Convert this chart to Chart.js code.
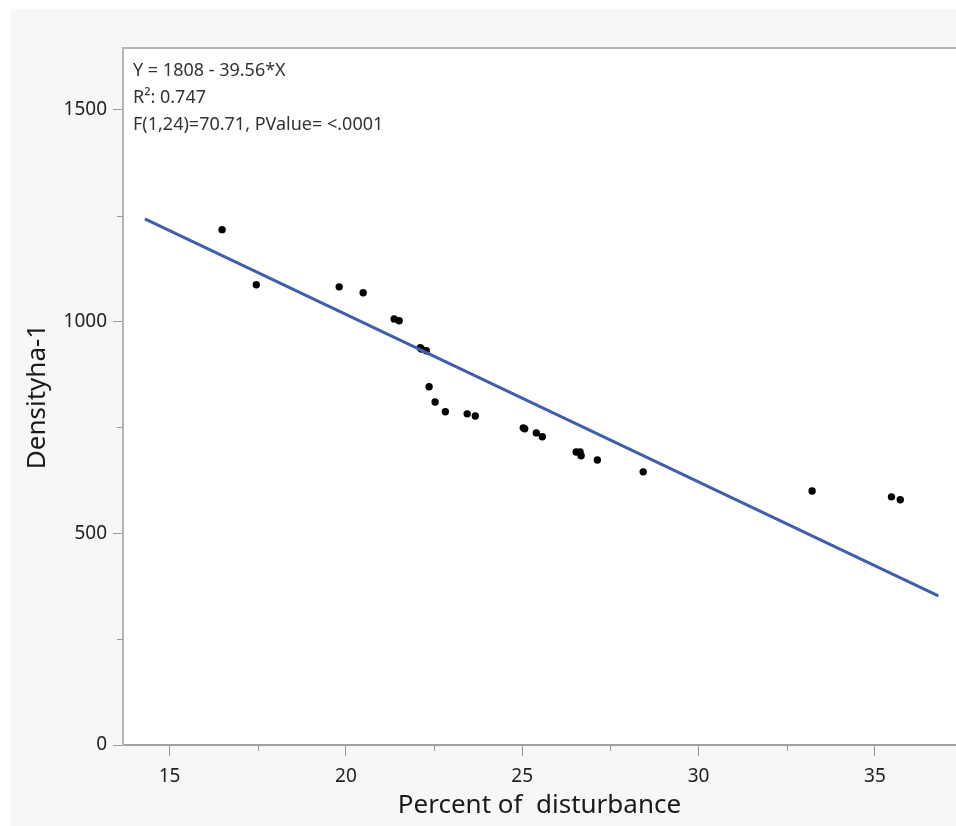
<!DOCTYPE html>
<html>
<head>
<meta charset="utf-8">
<script src="https://cdn.jsdelivr.net/npm/chart.js@4.4.0/dist/chart.umd.min.js"></script>
<style>
  html, body { margin: 0; padding: 0; background: #fff; overflow: hidden; }
  canvas { display: block; }
</style>
</head>
<body>
<canvas id="fitChart" width="956" height="826"></canvas>
<script>
// values
var disturbance = [16.49, 17.46, 19.81, 20.49, 21.37, 21.51, 22.11, 22.14, 22.28, 22.36, 22.53, 22.82, 23.44,
                   23.67, 25.03, 25.07, 25.40, 25.57, 26.53, 26.64, 26.67, 27.13, 28.43, 33.22, 35.47, 35.72]
var density = [1217, 1087, 1082, 1068, 1006, 1002, 938, 935, 931, 846, 810, 787, 782,
               777, 749, 747, 737, 728, 692, 692, 683, 673, 645, 600, 586, 579]
var xTicks = [15, 20, 25, 30, 35]
var xMinorTicks = [17.5, 22.5, 27.5, 32.5]
var yTicks = [0, 500, 1000, 1500]
var yMinorTicks = [250, 750, 1250]
var fitIntercept = 1808
var fitSlope = -39.56
var fitRange = [14.3, 36.8]
var fitText = ['Y = 1808 - 39.56*X', 'R\u00b2: 0.747', 'F(1,24)=70.71, PValue= <.0001']

var fontName = '"Noto Sans", "Open Sans", sans-serif'

var framePlugin = {
    id: 'frame',
    beforeDraw: function(chart) {
        var c = chart.ctx, a = chart.chartArea
        c.save()
        c.fillStyle = '#ffffff'
        c.fillRect(0, 0, chart.width, chart.height)
        c.fillStyle = '#f7f7f7'
        c.fillRect(11, 9, chart.width - 11, chart.height - 9)
        c.fillStyle = '#ffffff'
        c.fillRect(a.left, a.top, chart.width - a.left, a.bottom - a.top)
        c.restore()
    },
    afterDraw: function(chart) {
        var c = chart.ctx, a = chart.chartArea
        var xs = chart.scales.x, ys = chart.scales.y
        c.save()
        // top edge of the frame
        c.strokeStyle = '#b4b4b4'
        c.lineWidth = 2
        c.beginPath()
        c.moveTo(a.left, a.top)
        c.lineTo(chart.width, a.top)
        c.stroke()
        // minor ticks
        c.strokeStyle = '#9a9a9a'
        c.lineWidth = 1
        c.beginPath()
        xMinorTicks.forEach(function(v) {
            var px = Math.round(xs.getPixelForValue(v)) + 0.5
            c.moveTo(px, a.bottom)
            c.lineTo(px, a.bottom + 6)
        })
        yMinorTicks.forEach(function(v) {
            var py = Math.round(ys.getPixelForValue(v)) + 0.5
            c.moveTo(a.left - 6, py)
            c.lineTo(a.left, py)
        })
        c.stroke()
        // fit summary
        c.fillStyle = '#333333'
        c.font = '18px ' + fontName
        c.textBaseline = 'middle'
        fitText.forEach(function(t, i) {
            c.fillText(t, a.left + 10, a.top + 23 + i * 27)
        })
        c.restore()
    }
}

var ctx = document.getElementById('fitChart').getContext('2d')
var fitChart = new Chart(ctx, {
    type: 'scatter',
    data: {
        datasets: [{
            type: 'line',
            label: 'fit',
            data: fitRange.map(function(x) { return { x: x, y: fitIntercept + fitSlope * x } }),
            borderColor: '#3f5fae',
            borderWidth: 3,
            pointRadius: 0,
            fill: false
        }, {
            label: 'points',
            data: disturbance.map(function(x, i) { return { x: x, y: density[i] } }),
            backgroundColor: '#000000',
            borderColor: '#000000',
            pointRadius: 3.7,
            borderWidth: 0
        }]
    },
    options: {
        responsive: false,
        animation: false,
        devicePixelRatio: 1,
        layout: { autoPadding: false, padding: { left: 11, top: 48, right: 0, bottom: 0 } },
        plugins: {
            legend: { display: false },
            tooltip: { enabled: false }
        },
        scales: {
            x: {
                type: 'linear',
                min: 13.68,
                max: 37.3,
                afterBuildTicks: function(scale) {
                    scale.ticks = xTicks.map(function(v) { return { value: v } })
                },
                afterFit: function(scale) { scale.height = 81 },
                grid: { drawOnChartArea: false, tickLength: 11, color: '#9a9a9a' },
                border: { display: true, color: '#a0a0a0', width: 2 },
                ticks: {
                    color: '#222222', padding: 9, maxRotation: 0,
                    font: { family: fontName, size: 19 },
                    callback: function(v) { return String(v) }
                },
                title: {
                    display: true,
                    text: 'Percent of  disturbance',
                    color: '#1a1a1a',
                    font: { family: fontName, size: 26 },
                    padding: { top: 0, bottom: 5 }
                }
            },
            y: {
                type: 'linear',
                min: 0,
                max: 1646,
                afterBuildTicks: function(scale) {
                    scale.ticks = yTicks.map(function(v) { return { value: v } })
                },
                afterFit: function(scale) { scale.width = 112 },
                grid: { drawOnChartArea: false, tickLength: 10, color: '#9a9a9a' },
                border: { display: true, color: '#b4b4b4', width: 2 },
                ticks: {
                    color: '#222222', padding: 6,
                    font: { family: fontName, size: 19 },
                    callback: function(v) { return String(v) }
                },
                title: {
                    display: true,
                    text: 'Densityha-1',
                    color: '#1a1a1a',
                    font: { family: fontName, size: 26 },
                    padding: { top: 11, bottom: 0 }
                }
            }
        }
    },
    plugins: [framePlugin]
})
</script>
</body>
</html>
